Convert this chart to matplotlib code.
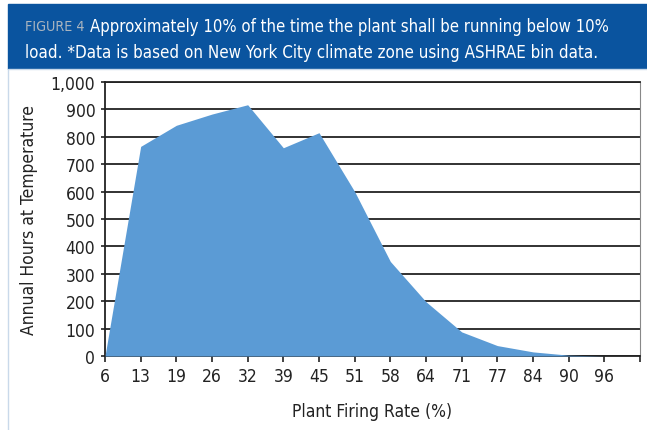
import matplotlib
matplotlib.use('Agg')
import matplotlib.pyplot as plt
from matplotlib.patches import Rectangle

# firing rate categories (%) and annual hours
rates = ['6', '13', '19', '26', '32', '39', '45', '51', '58', '64', '71', '77', '84', '90', '96']
hours = [0, 765, 842, 883, 917, 760, 815, 600, 345, 198, 88, 38, 15, 3, 0]

plt.rcParams['font.family'] = ['DejaVu Sans']
plt.rcParams['font.stretch'] = 'condensed'

W, H = 647, 431
fig = plt.figure(figsize=(W / 100, H / 100), dpi=100)
fig.canvas.draw()
rend = fig.canvas.get_renderer()


def fit(t, width_px):
    # shrink a text until it spans the wanted pixel width
    w = t.get_window_extent(rend).width
    t.set_fontsize(t.get_fontsize() * width_px / w)


# header band and white panel
fig.patches.append(Rectangle((8 / W, 1 - 70 / H), 1, 65 / H, transform=fig.transFigure,
                             color='#0a549f', zorder=0))
fig.patches.append(Rectangle((8 / W, -0.01), 1, 1 - 70 / H + 0.01, transform=fig.transFigure,
                             facecolor='white', edgecolor='#c9d9ea', lw=1, zorder=0))
t0 = fig.text(25 / W, 1 - 27 / H, 'FIGURE 4', color='#a9b4bf', fontsize=14, va='center')
fit(t0, 60)
t1 = fig.text(90 / W, 1 - 27 / H, 'Approximately 10% of the time the plant shall be running below 10%',
              color='white', fontsize=14, va='center')
fit(t1, 522)
t2 = fig.text(25 / W, 1 - 53 / H, 'load. *Data is based on New York City climate zone using ASHRAE bin data.',
              color='white', fontsize=14, va='center')
fit(t2, 575)

ax = fig.add_axes([105 / W, 1 - 357 / H, 535 / W, 274 / H])
ax.set_zorder(2)
x = list(range(len(hours)))
ax.fill_between(x, hours, 0, color='#5b9bd5', lw=0, zorder=3)

ax.set_xlim(0, len(rates))
ax.set_ylim(0, 1000)
ax.set_yticks(range(0, 1001, 100))
ax.set_yticklabels([f'{v:,}' for v in range(0, 1001, 100)])
ax.set_xticks(range(len(rates) + 1))
ax.set_xticklabels(rates + [''])
ax.yaxis.grid(True, color='#222222', lw=1.3, zorder=1)
ax.set_axisbelow(True)
for s in ['left', 'bottom', 'top']:
    ax.spines[s].set_color('#222222')
    ax.spines[s].set_linewidth(1.3)
ax.spines['right'].set_color('#888888')
ax.tick_params(axis='both', labelsize=12.5, colors='#222222', length=4, width=1.2, pad=4)
ax.tick_params(axis='y', length=3, pad=4)
ax.set_ylabel('Annual Hours at Temperature', fontsize=12.5, color='#222222', labelpad=9)
ax.set_xlabel('Plant Firing Rate (%)', fontsize=12.5, color='#222222', labelpad=12)

fig.savefig('out.png', dpi=100)
